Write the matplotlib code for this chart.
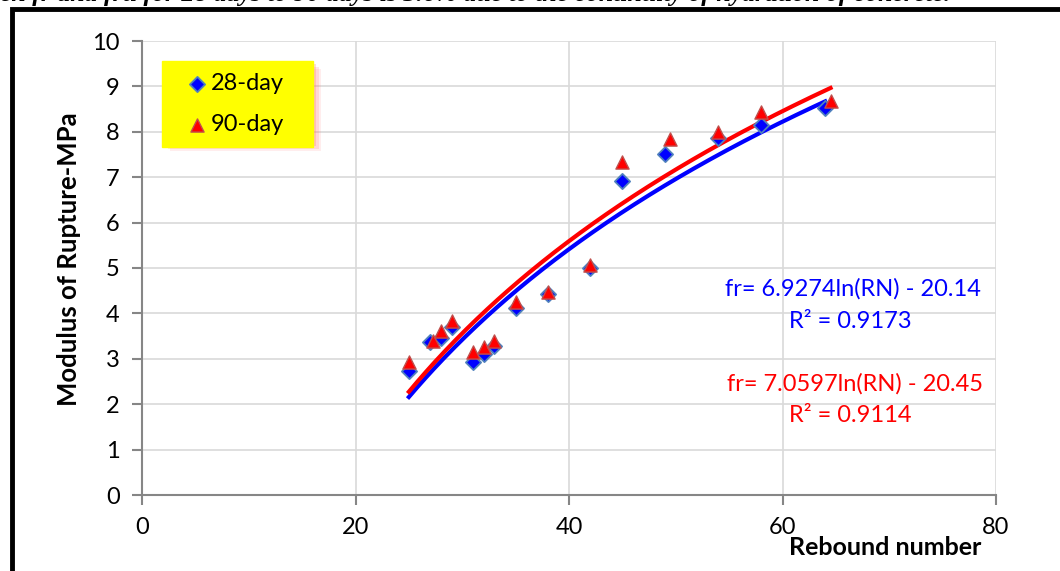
import matplotlib.pyplot as plt
import matplotlib.patches as patches
import numpy as np

# rebound number vs modulus of rupture
rn_28 = [25, 27, 28, 29, 31, 32, 33, 35, 38, 42, 45, 49, 54, 58, 64]
fr_28 = [2.73, 3.36, 3.46, 3.70, 2.93, 3.10, 3.28, 4.12, 4.43, 5.00, 6.92, 7.52, 7.86, 8.15, 8.52]
rn_90 = [25, 27.3, 28, 29, 31, 32, 33, 35, 38, 42, 45, 49.5, 54, 58, 64.5]
fr_90 = [2.93, 3.39, 3.61, 3.83, 3.15, 3.26, 3.39, 4.25, 4.47, 5.07, 7.33, 7.84, 8.00, 8.44, 8.68]

# log trendline coefficients (a*ln(RN) + b)
coef_28 = (6.9274, -20.14)
coef_90 = (7.0597, -20.45)
r2_28 = 0.9173
r2_90 = 0.9114

xticks = [0, 20, 40, 60, 80]
yticks = list(range(0, 11))

plt.rcParams['font.family'] = ['Lato', 'DejaVu Sans']
FS = 17

fig = plt.figure(figsize=(10.6, 5.71), dpi=100)
ax = fig.add_axes([142 / 1060, 1 - 495 / 571, (996 - 142) / 1060, (495 - 41) / 571])

# cropped caption line and thick frame from the source page
fig.text(0.0, 1 - 1.5 / 571, "en fr and fru for 28 days to 90 days is 3.6% due to the continuity of hydration of concrete.",
         family='Liberation Serif', style='italic', fontweight='bold', fontsize=18.5,
         va='baseline', ha='left')
frame = patches.Rectangle((11.5 / 1060, -0.1), 1.2, 1 - 9 / 571 + 0.1, transform=fig.transFigure,
                          fill=False, edgecolor='black', linewidth=3.5, zorder=10)
fig.patches.append(frame)

# trendlines
x28 = np.linspace(min(rn_28), max(rn_28), 200)
x90 = np.linspace(min(rn_90), max(rn_90), 200)
ax.plot(x28, coef_28[0] * np.log(x28) + coef_28[1], color='#0000ff', lw=3, zorder=3)
ax.plot(x90, coef_90[0] * np.log(x90) + coef_90[1], color='#ff0000', lw=3, zorder=3)

ax.scatter(rn_28, fr_28, marker='D', s=60, color='#0000ff', edgecolor='#4f81bd', linewidth=1.3,
           zorder=4, label='28-day')
ax.scatter(rn_90, fr_90, marker='^', s=90, color='#ff0000', edgecolor='#c0504d', linewidth=1.0,
           zorder=5, label='90-day')

ax.set_xlim(0, 80)
ax.set_ylim(0, 10)
ax.set_xticks(xticks)
ax.set_yticks(yticks)
ax.grid(True, color='#d9d9d9', lw=1.2)
ax.set_axisbelow(True)
for s in ['top', 'right']:
    ax.spines[s].set_visible(False)
for s in ['left', 'bottom']:
    ax.spines[s].set_color('#868686')
    ax.spines[s].set_linewidth(1.5)
ax.tick_params(axis='both', colors='#868686', length=7, width=1.5, labelsize=FS, labelcolor='black', pad=9)

ax.set_ylabel('Modulus of Rupture-MPa', fontsize=18.5, fontweight='bold')
ax.yaxis.set_label_coords(-0.071, 0.52)
ax.text(60 + (885 - 782) / 10.675, -1.16, 'Rebound number', fontsize=18, fontweight='bold',
        ha='center', va='center')

# equations
ax.text((981 - 142) / 10.675, (495 - 289) / 45.4, 'fr= 6.9274ln(RN) - 20.14', color='#0000ff',
        fontsize=FS, ha='right', va='center')
ax.text((850 - 142) / 10.675, (495 - 321) / 45.4, 'R² = %.4f' % r2_28, color='#0000ff',
        fontsize=FS, ha='center', va='center')
ax.text((983 - 142) / 10.675, (495 - 384) / 45.4, 'fr= 7.0597ln(RN) - 20.45', color='#ff0000',
        fontsize=FS, ha='right', va='center')
ax.text((850 - 142) / 10.675, (495 - 416) / 45.4, 'R² = %.4f' % r2_90, color='#ff0000',
        fontsize=FS, ha='center', va='center')

# legend with yellow box and soft pink shadow
lx0, ly0, lw, lh = 162 / 1060, 1 - 143 / 571, 151 / 1060, 82 / 571
for i, a in enumerate([0.12, 0.18, 0.25]):
    off = (8 - i * 2.5)
    ax.add_patch(patches.Rectangle((lx0 + off / 1060, ly0 - off / 571), lw, lh,
                                   transform=fig.transFigure, facecolor='#ff7070',
                                   edgecolor='none', alpha=a, zorder=8, clip_on=False))
leg = ax.legend(loc='upper left', bbox_to_anchor=(lx0, ly0, lw, lh), bbox_transform=fig.transFigure,
                mode='expand', frameon=True, fontsize=FS, handletextpad=-0.45, labelspacing=0.85,
                borderaxespad=0, handlelength=2.0, fancybox=False, borderpad=0.5)
leg.get_frame().set_facecolor('#ffff00')
leg.get_frame().set_edgecolor('#ffff00')
leg.get_frame().set_alpha(1)
leg.set_zorder(9)

fig.savefig('out.png', dpi=100)
